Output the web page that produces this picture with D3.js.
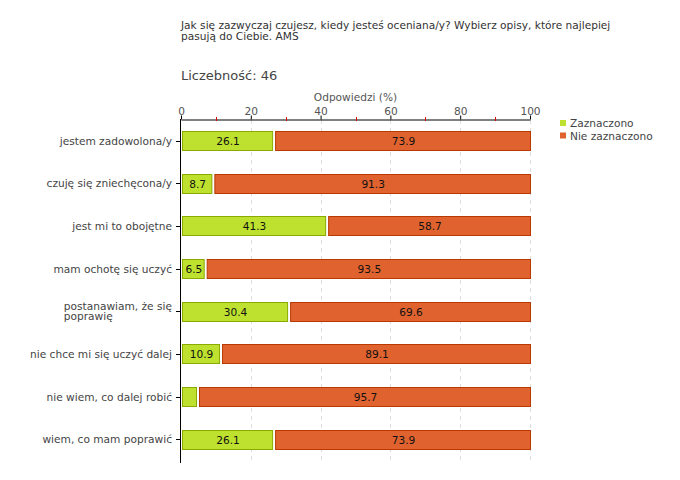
<!DOCTYPE html>
<html><head><meta charset="utf-8">
<script src="https://cdn.jsdelivr.net/npm/d3@7"></script>
<style>body{margin:0;background:#fff;} text{font-family:"DejaVu Sans",Verdana,sans-serif;}</style>
</head><body><svg id="c" width="680" height="480"></svg>
<script>
const categories = ["jestem zadowolona/y","czuję się zniechęcona/y","jest mi to obojętne","mam ochotę się uczyć","postanawiam, że się\npoprawię","nie chce mi się uczyć dalej","nie wiem, co dalej robić","wiem, co mam poprawić"];
const zaznaczono = [26.1, 8.7, 41.3, 6.5, 30.4, 10.9, 4.3, 26.1];
const nieZaznaczono = [73.9, 91.3, 58.7, 93.5, 69.6, 89.1, 95.7, 73.9];
const seriesNames = ["Zaznaczono","Nie zaznaczono"];
const xTicks = [0,20,40,60,80,100];
const minorTicks = [10,30,50,70,90];
const title = ["Jak się zazwyczaj czujesz, kiedy jesteś oceniana/y? Wybierz opisy, które najlepiej","pasują do Ciebie. AMS"];
const countLabel = "Liczebność: 46";
const axisTitle = "Odpowiedzi (%)";

const FS = 10.6;
const svg = d3.select("#c");
const x = d3.scaleLinear().domain([0,100]).range([181,530]);
const y = d3.scaleBand().domain(categories).range([119.5,460.5]).paddingInner(0.545).paddingOuter(0.27);
const fills = ["#bee12f","#e0632f"], strokes = ["#8aaa00","#b83a00"];

// title
svg.append("text").attr("x",181).attr("y",29).attr("font-size",FS).attr("fill","#333")
  .selectAll("tspan").data(title).join("tspan").attr("x",181).attr("dy",(d,i)=>i?11:0).text(d=>d);
svg.append("text").attr("x",181).attr("y",80).attr("font-size",13).attr("fill","#444").text(countLabel);
svg.append("text").attr("x",(x(0)+x(100))/2).attr("y",101).attr("text-anchor","middle").attr("font-size",FS).attr("fill","#555").text(axisTitle);

// grid
svg.append("g").selectAll("line").data(xTicks.slice(1)).join("line")
  .attr("x1",d=>Math.round(x(d))+0.5).attr("x2",d=>Math.round(x(d))+0.5).attr("y1",120).attr("y2",462)
  .attr("stroke","#ddd").attr("stroke-dasharray","4,4");

// top axis
const ax = svg.append("g").attr("transform","translate(0,119.5)")
  .call(d3.axisTop(x).tickValues(xTicks).tickSize(4).tickSizeOuter(0).tickPadding(1).tickFormat(d3.format("d")));
ax.select(".domain").attr("stroke","#000");
ax.selectAll(".tick line").attr("stroke","#000");
ax.selectAll("text").attr("font-size",FS).attr("fill","#555").style("font-family","DejaVu Sans");
svg.append("g").selectAll("line").data(minorTicks).join("line")
  .attr("x1",d=>Math.round(x(d))+0.5).attr("x2",d=>Math.round(x(d))+0.5).attr("y1",117).attr("y2",121)
  .attr("stroke","#d00");

// y axis
svg.append("line").attr("x1",180.5).attr("x2",180.5).attr("y1",119).attr("y2",463).attr("stroke","#000");
categories.forEach((c,i)=>{
  const cy = y(c)+y.bandwidth()/2;
  svg.append("line").attr("x1",176).attr("x2",180.5).attr("y1",Math.round(cy)+0.5).attr("y2",Math.round(cy)+0.5).attr("stroke","#000");
  const lines = c.split("\n");
  if(lines.length===1){
    svg.append("text").attr("x",172).attr("y",cy+4).attr("text-anchor","end").attr("font-size",FS).attr("fill","#444").text(c);
  } else {
    const t0 = svg.append("text").attr("font-size",FS).attr("fill","#444").attr("y",cy-1.5).text(lines[0]);
    const w = t0.node().getComputedTextLength();
    t0.attr("x",172-w);
    svg.append("text").attr("font-size",FS).attr("fill","#444").attr("x",172-w).attr("y",cy+9).text(lines[1]);
  }
});

// bars
const rows = categories.map((c,i)=>({c, a:zaznaczono[i], b:nieZaznaczono[i]}));
const g = svg.append("g");
rows.forEach(r=>{
  const y0 = Math.round(y(r.c))+0.5, h = Math.round(y.bandwidth());
  const x0 = x(0)+1, x1 = x(r.a), x2 = x(r.a)+3, x3 = x(100);
  g.append("rect").attr("x",x0+0.5).attr("y",y0).attr("width",x1-x0).attr("height",h)
    .attr("fill",fills[0]).attr("stroke",strokes[0]);
  g.append("rect").attr("x",x2+0.5).attr("y",y0).attr("width",x3-x2).attr("height",h)
    .attr("fill",fills[1]).attr("stroke",strokes[1]);
  if(r.a>=6) g.append("text").attr("x",(x0+x1)/2+1).attr("y",y0+h/2+4).attr("text-anchor","middle").attr("font-size",FS).attr("fill","#111").text(r.a.toFixed(1));
  g.append("text").attr("x",(x2+x3)/2+1).attr("y",y0+h/2+4).attr("text-anchor","middle").attr("font-size",FS).attr("fill","#111").text(r.b.toFixed(1));
});

// legend
const lg = svg.append("g");
seriesNames.forEach((s,i)=>{
  lg.append("rect").attr("x",560).attr("y",120+i*12.5).attr("width",6).attr("height",6).attr("fill",fills[i]);
  lg.append("text").attr("x",570).attr("y",127+i*12.5).attr("font-size",FS).attr("fill","#444").text(s);
});
</script></body></html>
